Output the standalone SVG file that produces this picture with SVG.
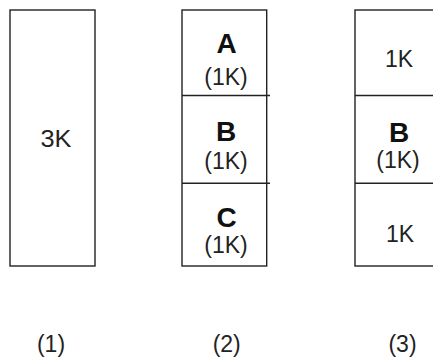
<svg xmlns="http://www.w3.org/2000/svg" width="433" height="360" viewBox="0 0 433 360">
<style>
.box{fill:#fff;stroke:#222;stroke-width:1.4}
.ln{stroke:#222;stroke-width:1.4;fill:none}
.t{font-family:"Liberation Sans",Arial,sans-serif;font-size:23px;fill:#222;text-anchor:middle}
.b{font-family:"Liberation Sans",Arial,sans-serif;font-size:28px;font-weight:bold;fill:#111;text-anchor:middle}
</style>
<rect width="433" height="360" fill="#fff"/>
<g id="block1">
<rect class="box" x="10" y="10" width="85" height="256"/>
<text class="t" x="56" y="147" textLength="31" lengthAdjust="spacingAndGlyphs">3K</text>
</g>
<g id="block2">
<rect class="box" x="182" y="10" width="84.7" height="256"/>
<text class="b" x="226.5" y="53">A</text>
<text class="t" x="226" y="85">(1K)</text>
<text class="b" x="226" y="141">B</text>
<text class="t" x="226" y="169">(1K)</text>
<text class="b" x="226.5" y="227">C</text>
<text class="t" x="226" y="253">(1K)</text>
</g>
<g id="block3">
<rect class="box" x="355" y="10" width="90" height="256"/>
<text class="t" x="399" y="66.5">1K</text>
<text class="b" x="399" y="141.5">B</text>
<text class="t" x="398" y="168">(1K)</text>
<text class="t" x="400" y="242">1K</text>
</g>
<g id="connectors">
<line class="ln" x1="182" y1="95.5" x2="270" y2="95.5"/>
<line class="ln" x1="182" y1="183.3" x2="270" y2="183.3"/>
<line class="ln" x1="355" y1="95.5" x2="433" y2="95.5"/>
<line class="ln" x1="355" y1="183.3" x2="433" y2="183.3"/>
</g>
<g id="labels">
<text class="t" x="51" y="352">(1)</text>
<text class="t" x="226.7" y="352">(2)</text>
<text class="t" x="402.5" y="352">(3)</text>
</g>
</svg>
